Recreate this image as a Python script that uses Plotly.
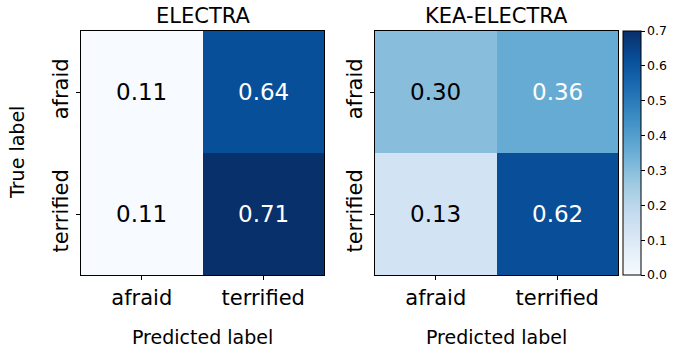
import plotly.graph_objects as go

# confusion matrices
labels = ['afraid', 'terrified']
electra = [[0.11, 0.64],
           [0.11, 0.71]]
kea_electra = [[0.30, 0.36],
               [0.13, 0.62]]
titles = ['ELECTRA', 'KEA-ELECTRA']
cbar_ticks = [0.0, 0.1, 0.2, 0.3, 0.4, 0.5, 0.6, 0.7]

# matplotlib "Blues"
blues = ['#f7fbff', '#deebf7', '#c6dbef', '#9ecae1', '#6baed6',
         '#4292c6', '#2171b5', '#08519c', '#08306b']
colorscale = [[i / (len(blues) - 1), c] for i, c in enumerate(blues)]

W, H = 677, 356
FONT = 'DejaVu Sans'

# panel boxes in pixels (left, right, top, bottom)
panels = [(81, 324, 31, 275), (375, 618, 31, 275)]


def px_x(x):
    return x / W


def px_y(y):
    return 1 - y / H


fig = go.Figure()

matrices = [electra, kea_electra]
ranges = [(min(min(r) for r in electra), max(max(r) for r in electra)), (0.0, 0.7)]

for i, (z, (zmin, zmax)) in enumerate(zip(matrices, ranges)):
    xa = 'x' if i == 0 else 'x2'
    ya = 'y' if i == 0 else 'y2'
    fig.add_trace(go.Heatmap(
        z=z, x=labels, y=labels, xaxis=xa, yaxis=ya,
        colorscale=colorscale, zmin=zmin, zmax=zmax,
        showscale=(i == 1), hoverinfo='skip', xgap=0, ygap=0,
        colorbar=dict(
            x=px_x(623), xanchor='left', xref='paper', xpad=0,
            y=px_y(275), yanchor='bottom', yref='paper', ypad=0,
            len=(275 - 31) / H, lenmode='fraction',
            thickness=18, outlinewidth=1, outlinecolor='black',
            tickvals=cbar_ticks, ticktext=['%.1f' % t for t in cbar_ticks],
            ticks='outside', ticklen=3.5, tickcolor='black',
            tickfont=dict(size=12.5, color='black', family=FONT),
        ),
    ))
    # cell values, white on dark cells
    thresh = (zmin + zmax) / 2
    for r, row_lab in enumerate(labels):
        for c, col_lab in enumerate(labels):
            v = z[r][c]
            fig.add_annotation(
                x=col_lab, y=row_lab, xref=xa, yref=ya,
                text='%.2f' % v, showarrow=False,
                font=dict(size=23, family=FONT,
                          color='white' if v > thresh else 'black'))

    left, right, top, bottom = panels[i]
    axis_common = dict(showline=True, mirror=True, linecolor='black', linewidth=1,
                       ticks='outside', ticklen=4, tickcolor='black',
                       tickfont=dict(size=21, family=FONT, color='black'),
                       showgrid=False, zeroline=False, fixedrange=True,
                       automargin=False)
    fig.update_layout(**{
        ('xaxis' if i == 0 else 'xaxis2'): dict(
            domain=[px_x(left), px_x(right)], anchor=ya, **axis_common),
        ('yaxis' if i == 0 else 'yaxis2'): dict(
            domain=[px_y(bottom), px_y(top)], anchor=xa, autorange='reversed',
            tickangle=-90, **axis_common),
    })

    fig.add_annotation(x=px_x((left + right) / 2), y=px_y(16), xref='paper', yref='paper',
                       xanchor='center', yanchor='middle',
                       text=titles[i], showarrow=False,
                       font=dict(size=21, family=FONT, color='black'))
    fig.add_annotation(x=px_x((left + right) / 2), y=px_y(337), xref='paper', yref='paper',
                       xanchor='center', yanchor='middle',
                       text='Predicted label', showarrow=False,
                       font=dict(size=19, family=FONT, color='black'))

fig.add_annotation(x=px_x(17), y=px_y(153), xref='paper', yref='paper',
                   xanchor='center', yanchor='middle',
                   text='True label', showarrow=False, textangle=-90,
                   font=dict(size=19, family=FONT, color='black'))

fig.update_layout(width=W, height=H,
                  margin=dict(l=0, r=0, t=0, b=0, pad=0, autoexpand=False),
                  paper_bgcolor='white', plot_bgcolor='white',
                  font=dict(family=FONT, color='black'))

fig.write_html('out.html', config={'displayModeBar': False},
               post_script="document.body.style.margin='0px';")
